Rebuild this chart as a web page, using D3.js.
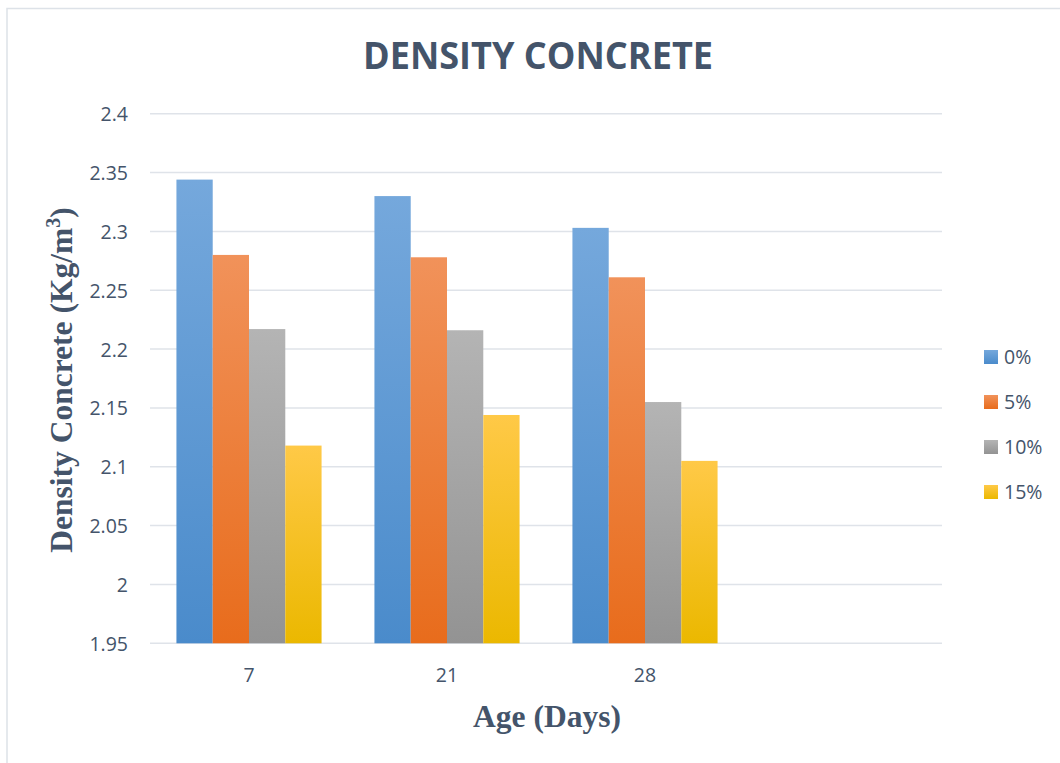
<!DOCTYPE html>
<html>
<head>
<meta charset="utf-8">
<script src="https://cdn.jsdelivr.net/npm/d3@7"></script>
<style>
  html, body { margin: 0; padding: 0; background: #fff; }
  svg { display: block; }
</style>
</head>
<body>
<svg id="chart" width="1060" height="763"></svg>
<script>
const categories = ["7", "21", "28", ""];
const seriesNames = ["0%", "5%", "10%", "15%"];
const values0 = [2.344, 2.330, 2.303, null];
const values5 = [2.280, 2.278, 2.261, null];
const values10 = [2.217, 2.216, 2.155, null];
const values15 = [2.118, 2.144, 2.105, null];
const yTicks = [1.95, 2, 2.05, 2.1, 2.15, 2.2, 2.25, 2.3, 2.35, 2.4];
const yTickLabels = ["1.95", "2", "2.05", "2.1", "2.15", "2.2", "2.25", "2.3", "2.35", "2.4"];

(function () {
const seriesValues = [values0, values5, values10, values15];
const gradTop = ["#75a8dc", "#f1925a", "#b4b4b4", "#ffc947"];
const gradBot = ["#4a8bcb", "#e86c1c", "#939393", "#ebb800"];

const svg = d3.select("#chart");
const defs = svg.append("defs");
seriesNames.forEach((s, i) => {
  const g = defs.append("linearGradient").attr("id", "g" + i)
    .attr("x1", 0).attr("y1", 0).attr("x2", 0).attr("y2", 1);
  g.append("stop").attr("offset", "0%").attr("stop-color", gradTop[i]);
  g.append("stop").attr("offset", "100%").attr("stop-color", gradBot[i]);
});

// outer border
svg.append("rect").attr("x", 7).attr("y", 8.5).attr("width", 1080).attr("height", 800)
  .attr("fill", "none").attr("stroke", "#dde2e8").attr("stroke-width", 1.5);

const pLeft = 150, pRight = 942, pTop = 113.7, pBottom = 643.3;
const y = d3.scaleLinear().domain([1.95, 2.4]).range([pBottom, pTop]);
const x0 = d3.scaleBand().domain(categories).range([pLeft, pRight]).paddingInner(0.267).paddingOuter(0.1335);
const x1 = d3.scaleBand().domain(seriesNames).range([0, x0.bandwidth()]).padding(0);

// gridlines
svg.append("g").selectAll("line").data(yTicks).join("line")
  .attr("x1", pLeft).attr("x2", pRight)
  .attr("y1", d => y(d)).attr("y2", d => y(d))
  .attr("stroke", "#dfe3e9").attr("stroke-width", 1.5);

// y axis labels
const yAxis = d3.axisLeft(y).tickValues(yTicks).tickFormat((d, i) => yTickLabels[i]).tickSize(0).tickPadding(0);
const ya = svg.append("g").attr("transform", `translate(128,0)`).call(yAxis);
ya.select(".domain").remove();
ya.selectAll("text").attr("font-family", "Open Sans, sans-serif").attr("font-size", 19.5)
  .attr("fill", "#44546a").attr("dy", "0.36em");

// bars
const groups = svg.append("g").selectAll("g").data(categories).join("g")
  .attr("transform", d => `translate(${x0(d)},0)`);
groups.selectAll("rect")
  .data((c, ci) => seriesNames.map((s, si) => ({ s, si, v: seriesValues[si][ci] })).filter(d => d.v != null))
  .join("rect")
  .attr("x", d => x1(d.s))
  .attr("width", x1.bandwidth())
  .attr("y", d => y(d.v))
  .attr("height", d => y(1.95) - y(d.v))
  .attr("fill", d => `url(#g${d.si})`);

// x axis labels
const xAxis = d3.axisBottom(x0).tickSize(0).tickPadding(0);
const xa = svg.append("g").attr("transform", `translate(0,${pBottom})`).call(xAxis);
xa.select(".domain").remove();
xa.selectAll("text").attr("font-family", "Open Sans, sans-serif").attr("font-size", 19.5)
  .attr("fill", "#44546a").attr("y", 39).attr("dy", 0);

// title
svg.append("text").attr("x", 538).attr("y", 69).attr("text-anchor", "middle")
  .attr("font-family", "Open Sans, sans-serif").attr("font-weight", "bold").attr("font-size", 38)
  .attr("textLength", 350).attr("lengthAdjust", "spacingAndGlyphs")
  .attr("fill", "#44546a").text("DENSITY CONCRETE");

// axis titles
svg.append("text").attr("x", 547).attr("y", 727).attr("text-anchor", "middle")
  .attr("font-family", "Liberation Serif, serif").attr("font-weight", "bold").attr("font-size", 31.5)
  .attr("fill", "#44546a").text("Age (Days)");

const yt = svg.append("text").attr("transform", "translate(72,380) rotate(-90)").attr("text-anchor", "middle")
  .attr("font-family", "Liberation Serif, serif").attr("font-weight", "bold").attr("font-size", 31.5)
  .attr("fill", "#44546a");
yt.append("tspan").text("Density Concrete (Kg/m");
yt.append("tspan").attr("font-size", 20).attr("dy", -12).text("3");
yt.append("tspan").attr("dy", 12).text(")");

// legend
const lg = svg.append("g").selectAll("g").data(seriesNames).join("g")
  .attr("transform", (d, i) => `translate(984,${357 + i * 45})`);
lg.append("rect").attr("x", 0).attr("y", -7).attr("width", 14).attr("height", 14)
  .attr("fill", (d, i) => `url(#g${i})`);
lg.append("text").attr("x", 20).attr("y", 0).attr("dy", "0.36em")
  .attr("font-family", "Open Sans, sans-serif").attr("font-size", 19.5).attr("fill", "#44546a")
  .text(d => d);
})();
</script>
</body>
</html>
